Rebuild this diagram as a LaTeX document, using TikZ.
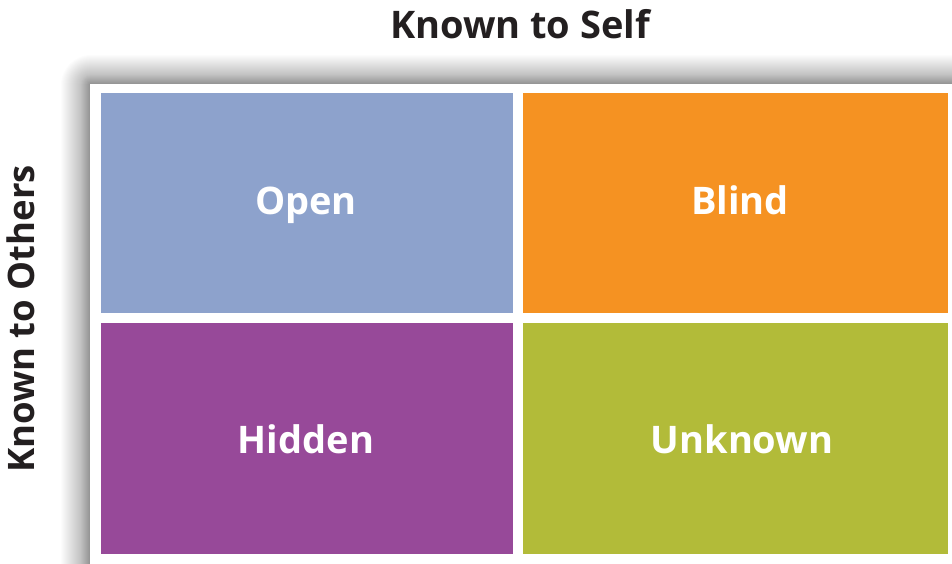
\documentclass[tikz,border=0pt]{standalone}
\usepackage{fontspec}
\setmainfont{Open Sans}
\definecolor{cblue}{RGB}{141,162,204}
\definecolor{corange}{RGB}{245,146,34}
\definecolor{cpurple}{RGB}{151,73,153}
\definecolor{cgreen}{RGB}{178,187,57}
\definecolor{ctext}{RGB}{35,31,32}
\tikzset{
  quad/.style={draw=none, anchor=north west, inner sep=0pt, outer sep=0pt},
  quadlabel/.style={anchor=base, inner sep=0pt, text=white,
    font=\fontsize{38}{42}\selectfont\bfseries},
  axislabel/.style={text=ctext, font=\fontsize{38}{42}\selectfont\bfseries, inner sep=0pt}
}
\begin{document}
\begin{tikzpicture}[x=1pt,y=-1pt]
\useasboundingbox (0,0) rectangle (952,564);
\clip (0,0) rectangle (952,564);
\fill[white] (0,0) rectangle (952,564);
% soft shadow
\foreach \i in {1,...,30}{
  \fill[black, opacity=0.011, rounded corners=\i pt] (91-\i,85-\i) rectangle (980,600);
}
\foreach \i in {1,...,10}{
  \fill[black, opacity=0.008, rounded corners=\i pt] (91-\i,85-\i) rectangle (980,600);
}
\node[fill=white, draw=none, inner sep=0pt, minimum width=890pt, minimum height=510pt, anchor=north west] (panel) at (90,84) {};
\node[quad, fill=cblue, minimum width=412pt, minimum height=220pt] (open) at (101,93) {};
\node[quad, fill=corange, minimum width=425pt, minimum height=220pt] (blind) at (523,93) {};
\node[quad, fill=cpurple, minimum width=412pt, minimum height=231pt] (hidden) at (101,323) {};
\node[quad, fill=cgreen, minimum width=425pt, minimum height=231pt] (unknown) at (523,323) {};
\node[quadlabel] (openl) at (306,214) {Open};
\node[quadlabel] (blindl) at (740,214) {Blind};
\node[quadlabel] (hiddenl) at (306,453) {Hidden};
\node[quadlabel] (unknownl) at (742,453) {Unknown};
\node[axislabel, anchor=base] (self) at (520,39) {Known to Self};
\node[axislabel, font=\fontsize{36.5}{40}\selectfont\bfseries, rotate=90, anchor=base] (others) at (34,319) {Known to Others};
\end{tikzpicture}
\end{document}
